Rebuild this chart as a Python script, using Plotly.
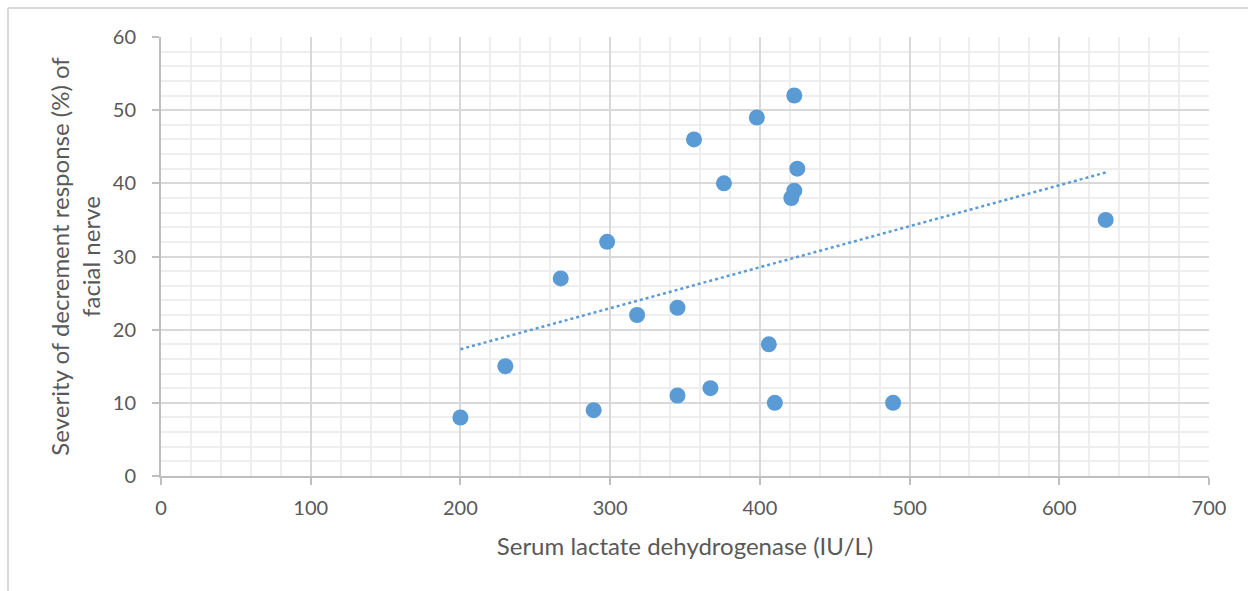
import numpy as np
import plotly.graph_objects as go

ldh = [200, 230, 267, 289, 298, 318, 345, 345, 356, 367, 376, 398, 406, 410, 423, 425, 423, 421, 489, 631]
severity = [8, 15, 27, 9, 32, 22, 23, 11, 46, 12, 40, 49, 18, 10, 52, 42, 39, 38, 10, 35]

x_ticks = [0, 100, 200, 300, 400, 500, 600, 700]
y_ticks = [0, 10, 20, 30, 40, 50, 60]

blue = "#5b9bd5"
font_family = "Lato, 'Open Sans', sans-serif"
text_color = "#595959"

slope, intercept = np.polyfit(ldh, severity, 1)
tx = np.array([min(ldh), max(ldh)])
ty = slope * tx + intercept

fig = go.Figure()
fig.add_trace(go.Scatter(x=tx, y=ty, mode="lines",
                         line=dict(color=blue, width=2.5, dash="dot"),
                         hoverinfo="skip", showlegend=False))
fig.add_trace(go.Scatter(x=ldh, y=severity, mode="markers",
                         marker=dict(color=blue, size=16, line=dict(width=0)),
                         showlegend=False))

L, R, T, B = 161, 39, 37, 115
W, H = 1248, 591
pw, ph = W - L - R, H - T - B

axis_common = dict(
    showline=True, linecolor="#bfbfbf", linewidth=2,
    gridcolor="#d9d9d9", gridwidth=2,
    ticks="outside", ticklen=7, tickcolor="#bfbfbf", tickwidth=2,
    tickfont=dict(family=font_family, size=20, color=text_color),
    zeroline=False,
)

fig.update_layout(
    width=W, height=H,
    margin=dict(l=L, r=R, t=T, b=B),
    paper_bgcolor="white", plot_bgcolor="white",
    font=dict(family=font_family, color=text_color),
    xaxis=dict(range=[0, 700], tickvals=x_ticks, ticklabelstandoff=6,
               minor=dict(dtick=20, showgrid=True, gridcolor="#eeeeee", gridwidth=2),
               title=dict(text="Serum lactate dehydrogenase (IU/L)",
                          font=dict(family=font_family, size=24, color=text_color),
                          standoff=20),
               **axis_common),
    yaxis=dict(range=[0, 60], tickvals=y_ticks, ticklabelstandoff=12,
               minor=dict(dtick=2, showgrid=True, gridcolor="#eeeeee", gridwidth=2),
               title=dict(text="Severity of decrement response (%) of<br>facial nerve",
                          font=dict(family=font_family, size=24, color=text_color),
                          standoff=5),
               **axis_common),
    shapes=[
        dict(type="line", xref="paper", yref="paper",
             x0=(8 - L) / pw, x1=(W + 20 - L) / pw,
             y0=1 + (T - 8) / ph, y1=1 + (T - 8) / ph,
             line=dict(color="#d9d9d9", width=2)),
        dict(type="line", xref="paper", yref="paper",
             x0=(8 - L) / pw, x1=(8 - L) / pw,
             y0=1 + (T - 8) / ph, y1=-(H + 20 - (H - B)) / ph,
             line=dict(color="#d9d9d9", width=2)),
    ],
)

fig.write_html("out.html")
